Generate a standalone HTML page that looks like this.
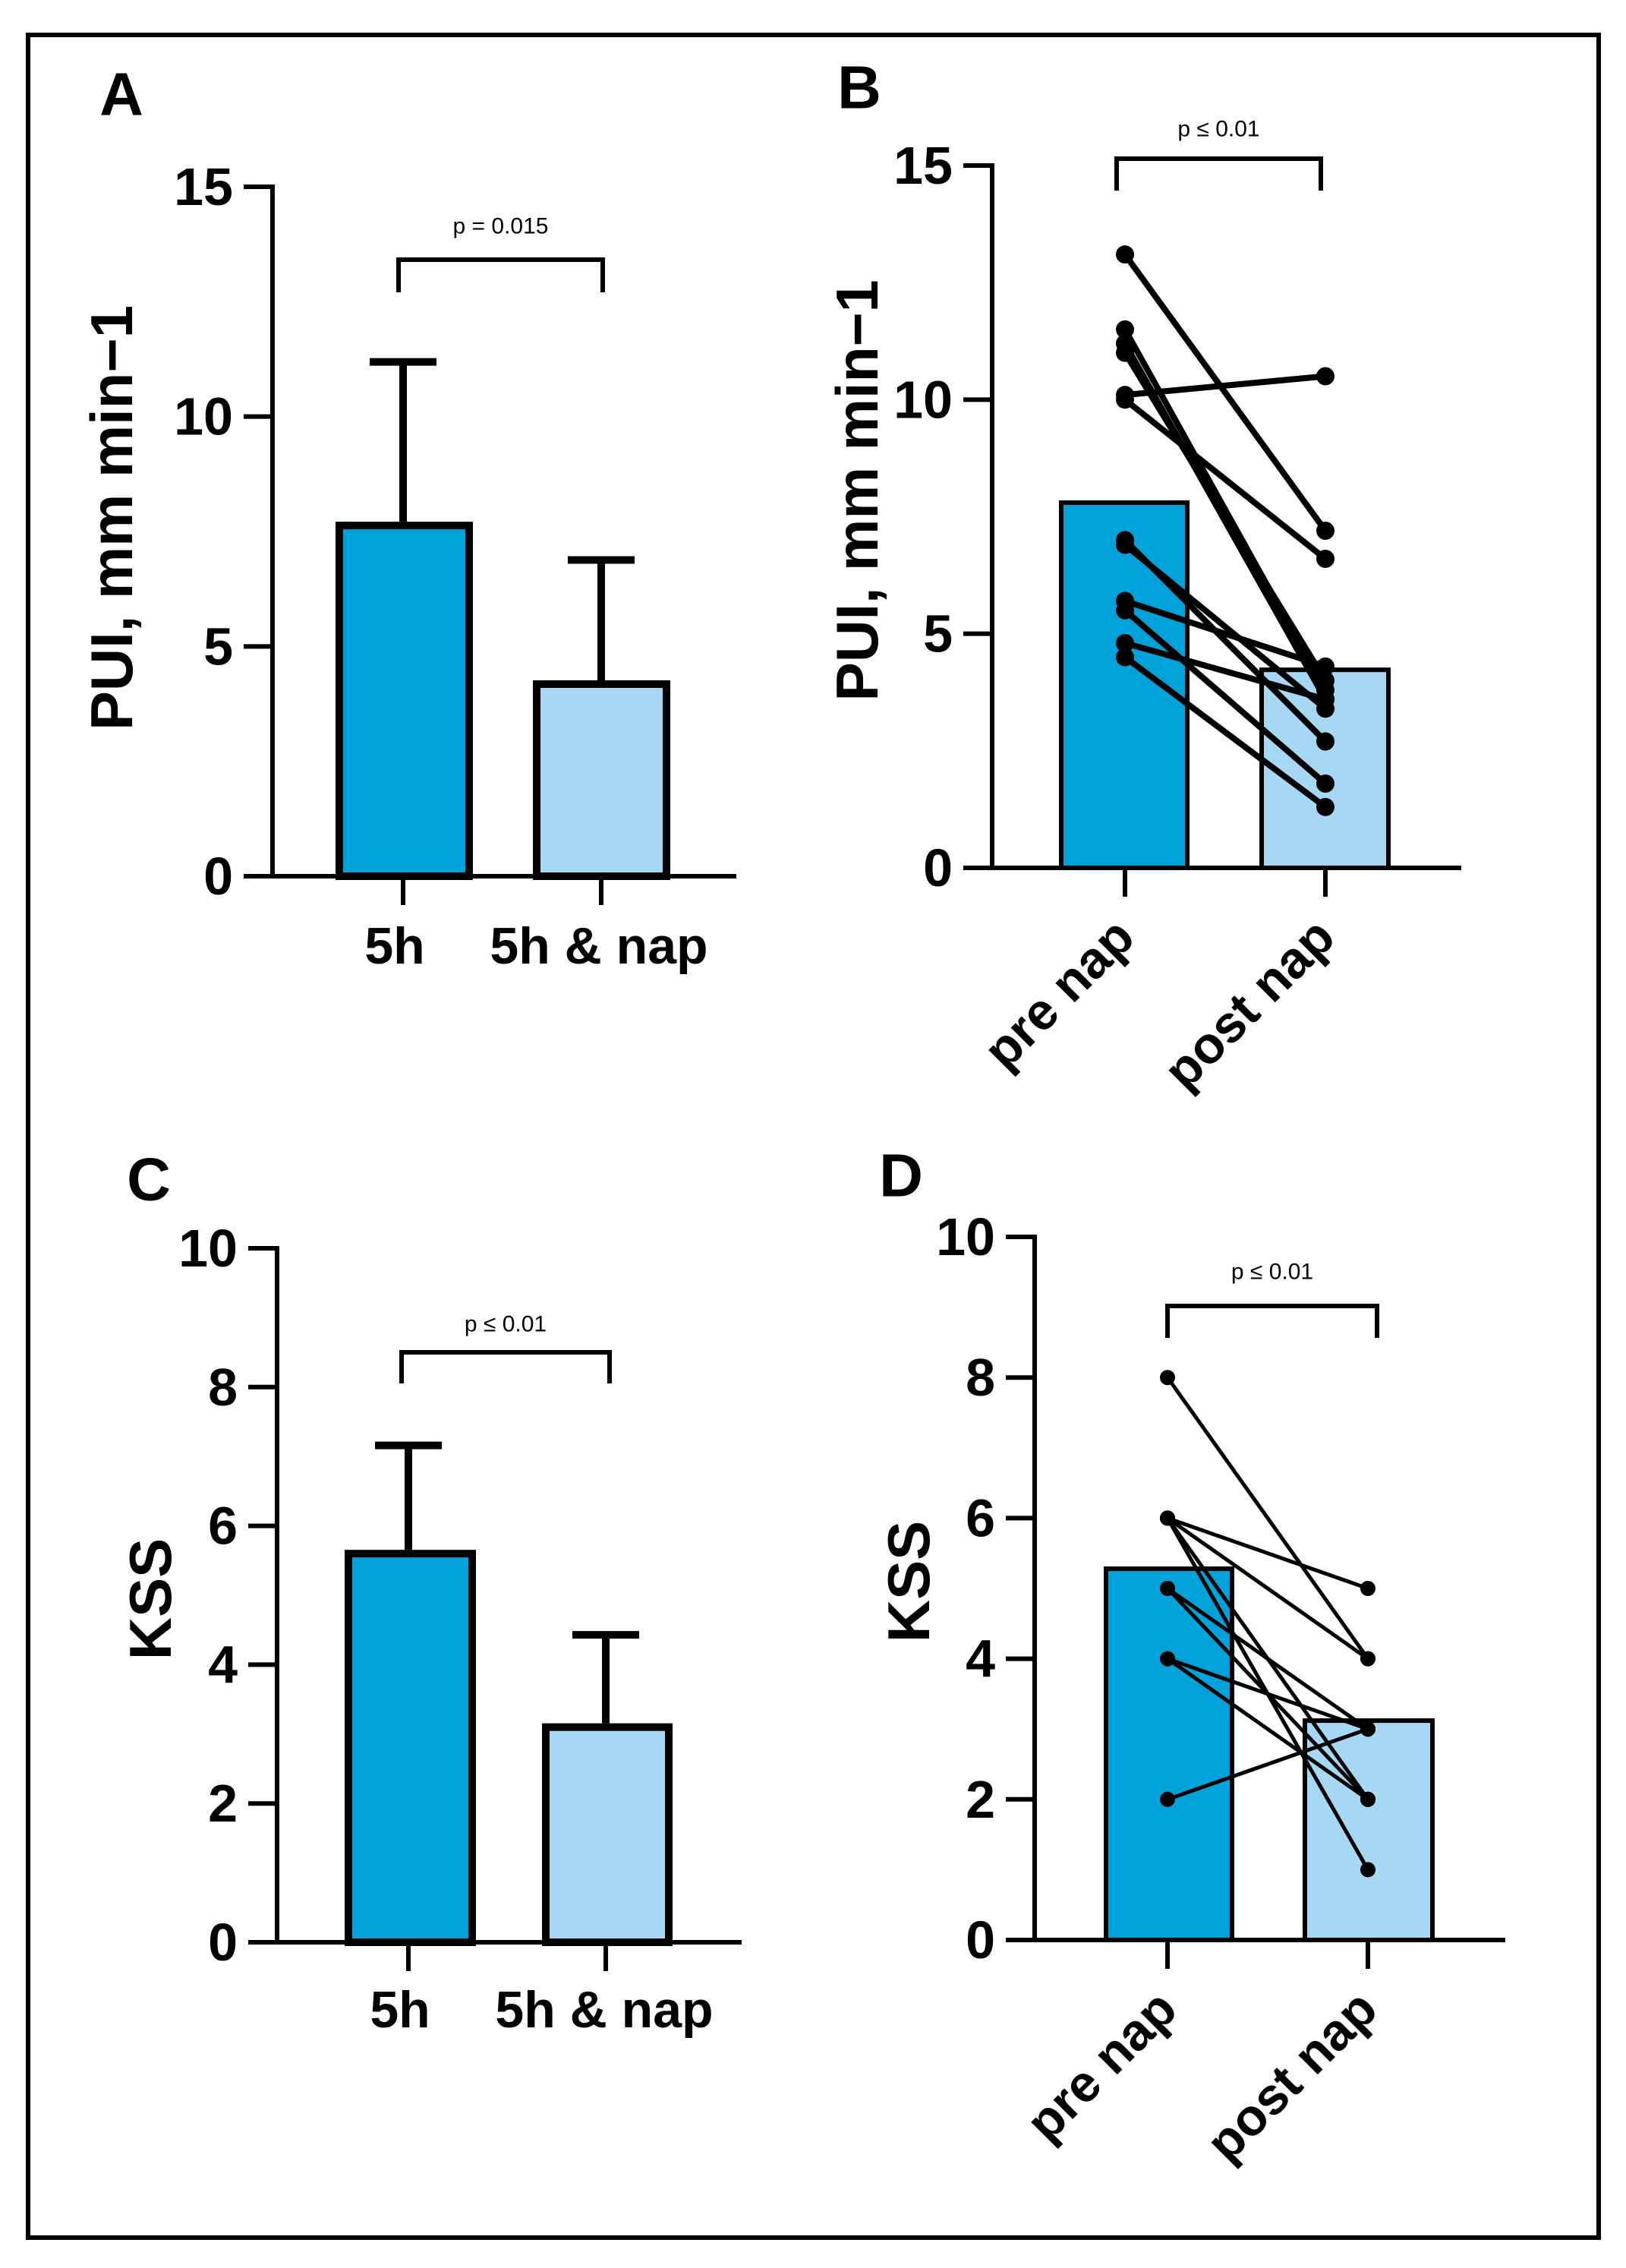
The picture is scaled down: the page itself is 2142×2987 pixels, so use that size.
<!DOCTYPE html>
<html><head><meta charset="utf-8"><style>
html,body{margin:0;padding:0;background:#fff}
svg{display:block}
text{font-family:"Liberation Sans",Arial,sans-serif;font-weight:bold;fill:#000}
</style></head><body>
<svg id="fig" width="2142" height="2987" viewBox="0 0 2142 2987">
<rect x="37" y="46" width="2069" height="2901" fill="none" stroke="#000" stroke-width="6"/>
</svg>
<script>
// Panel A data
const catsAB = ["5h", "5h & nap"];
const meanA = [7.63, 4.18];
const errA = [11.19, 6.88];
const ticksPUI = [0, 5, 10, 15];
// Panel B data
const catsPrePost = ["pre nap", "post nap"];
const meanB = [7.8, 4.23];
const preB = [13.1, 11.5, 11.2, 11.0, 10.1, 10.0, 7.0, 6.9, 5.7, 5.5, 4.8, 4.5];
const postB = [7.2, 3.8, 3.6, 4.0, 10.5, 6.6, 2.7, 3.4, 4.3, 1.8, 3.6, 1.3];
// Panel C data
const meanC = [5.6, 3.1];
const errC = [7.16, 4.43];
const ticksKSS = [0, 2, 4, 6, 8, 10];
// Panel D data
const meanD = [5.28, 3.12];
const preD = [8, 6, 6, 6, 6, 5, 5, 4, 4, 2];
const postD = [4, 5, 4, 2, 1, 3, 2, 3, 2, 3];

const NS = "http://www.w3.org/2000/svg";
const svg = document.getElementById("fig");
function mk(tag, attrs, parent) {
  const e = document.createElementNS(NS, tag);
  for (const k in attrs) e.setAttribute(k, attrs[k]);
  (parent || svg).appendChild(e);
  return e;
}
function txt(s, attrs, parent) { const t = mk("text", attrs, parent); t.textContent = s; return t; }
const fills = ["#00a2d9", "#a6d8f3"];

function panel(cfg) {
  const g = mk("g", {});
  
  
  const y = v => cfg.y0 + (cfg.yTop - cfg.y0) * v / cfg.yMax;
  const L = txt(cfg.letter, {x: cfg.lx, y: cfg.ly, "font-size": 80, "text-anchor": "middle", "dominant-baseline": "central"}, g);
  
  
  const T = txt(cfg.title, {x: 0, y: 0, "font-size": 78, "text-anchor": "middle", "dominant-baseline": "central",
    transform: `translate(${cfg.tx},${cfg.ty}) rotate(-90)`}, g);
  if (cfg.titleLen) { T.setAttribute("textLength", cfg.titleLen); T.setAttribute("lengthAdjust", "spacingAndGlyphs"); }
  
  
  cfg.means.forEach((m, i) => {
    const b = mk("rect", {x: cfg.bars[i][0], y: y(m), width: cfg.bars[i][1] - cfg.bars[i][0], height: cfg.y0 - y(m),
      fill: fills[i], stroke: "#000", "stroke-width": cfg.bw}, g);
    
    
  });
  if (cfg.errs) cfg.errs.forEach((e, i) => {
    const cx = cfg.xt[i];
    const eg = mk("g", {stroke: "#000", "stroke-width": 10}, g);
    
    
    mk("line", {x1: cx, x2: cx, y1: y(e), y2: y(cfg.means[i]) - cfg.bw / 2}, eg);
    mk("line", {x1: cx - 44, x2: cx + 44, y1: y(e), y2: y(e)}, eg);
  });
  if (cfg.pre) {
    const pg = mk("g", {}, g);
    
    
    cfg.pre.forEach((p, i) => {
      const q = cfg.post[i];
      const l = mk("line", {x1: cfg.xt[0], y1: y(p), x2: cfg.xt[1], y2: y(q), stroke: "#000", "stroke-width": cfg.lw}, pg);
      
      
    });
    cfg.pre.forEach((p, i) => {
      const q = cfg.post[i];
      const c1 = mk("circle", {cx: cfg.xt[0], cy: y(p), r: cfg.r, fill: "#000"}, pg);
      
      
      const c2 = mk("circle", {cx: cfg.xt[1], cy: y(q), r: cfg.r, fill: "#000"}, pg);
      
      
    });
  }
  const ax = mk("g", {stroke: "#000", "stroke-width": 6, fill: "none"}, g);
  
  
  mk("line", {x1: cfg.ax, x2: cfg.ax, y1: y(cfg.yMax) - 3, y2: cfg.y0 + 3}, ax);
  mk("line", {x1: cfg.xs, x2: cfg.xe, y1: cfg.y0, y2: cfg.y0}, ax);
  cfg.ticks.forEach(t => {
    mk("line", {x1: cfg.ax - 38, x2: cfg.ax, y1: y(t), y2: y(t)}, ax);
    const tl = txt(String(t), {x: cfg.ax - 52, y: y(t), "font-size": 70, "text-anchor": "end", "dominant-baseline": "central"}, g);
    
    
  });
  cfg.xt.forEach((x, i) => {
    mk("line", {x1: x, x2: x, y1: cfg.y0, y2: cfg.y0 + 38}, ax);
    let lab;
    if (cfg.rot) {
      lab = txt(cfg.cats[i], {x: 0, y: 0, "font-size": 68, "text-anchor": "end",
        transform: `translate(${x + 16},${cfg.y0 + 95}) rotate(-45)`}, g);
    } else {
      lab = txt(cfg.cats[i], {x: cfg.lc[i], y: cfg.lb, "font-size": 68, "text-anchor": "middle"}, g);
    }
    
    
  });
  const bk = mk("path", {d: `M${cfg.bx[0]},${cfg.by[1]}V${cfg.by[0]}H${cfg.bx[1]}V${cfg.by[1]}`, fill: "none", stroke: "#000", "stroke-width": 6}, g);
  
  
  const pt = txt(cfg.p, {x: (cfg.bx[0] + cfg.bx[1]) / 2, y: cfg.py, "font-size": 30, "text-anchor": "middle", "dominant-baseline": "central", style: "font-weight:normal"}, g);
  
  
}

panel({name: "panel-a", letter: "A", lx: 160, ly: 124, title: "PUI, mm min\u22121", tx: 147, ty: 682, titleLen: 560,
  ax: 359, y0: 1154, yTop: 246, yMax: 15, ticks: ticksPUI, xs: 321, xe: 970,
  bars: [[447, 618], [707, 878]], bw: 10, means: meanA, errs: errA, xt: [531, 792],
  cats: catsAB, lc: [520, 789], lb: 1269, bx: [525, 794], by: [342, 385], p: "p = 0.015", py: 298});

panel({name: "panel-b", letter: "B", lx: 1132, ly: 115, title: "PUI, mm min\u22121", tx: 1129, ty: 646, titleLen: 555,
  ax: 1307, y0: 1143, yTop: 218, yMax: 15, ticks: ticksPUI, xs: 1272, xe: 1925,
  bars: [[1398, 1564], [1662, 1829]], bw: 6, means: meanB, xt: [1482, 1746], pre: preB, post: postB, lw: 8, r: 12,
  cats: catsPrePost, rot: true, bx: [1471, 1740], by: [209, 251], p: "p \u2264 0.01", py: 170});

panel({name: "panel-c", letter: "C", lx: 196, ly: 1553, title: "KSS", tx: 198, ty: 2106,
  ax: 365, y0: 2558, yTop: 1644, yMax: 10, ticks: ticksKSS, xs: 328, xe: 977,
  bars: [[459, 622], [719, 881]], bw: 10, means: meanC, errs: errC, xt: [538, 798],
  cats: catsAB, lc: [527, 796], lb: 2670, bx: [529, 803], by: [1781, 1822], p: "p \u2264 0.01", py: 1744});

panel({name: "panel-d", letter: "D", lx: 1187, ly: 1548, title: "KSS", tx: 1197, ty: 2083,
  ax: 1363, y0: 2555, yTop: 1629, yMax: 10, ticks: ticksKSS, xs: 1327, xe: 1983,
  bars: [[1457, 1623], [1719, 1887]], bw: 6, means: meanD, xt: [1538, 1802], pre: preD, post: postD, lw: 5, r: 10,
  cats: catsPrePost, rot: true, bx: [1538, 1814], by: [1720, 1762], p: "p \u2264 0.01", py: 1675});
</script>
</body></html>
